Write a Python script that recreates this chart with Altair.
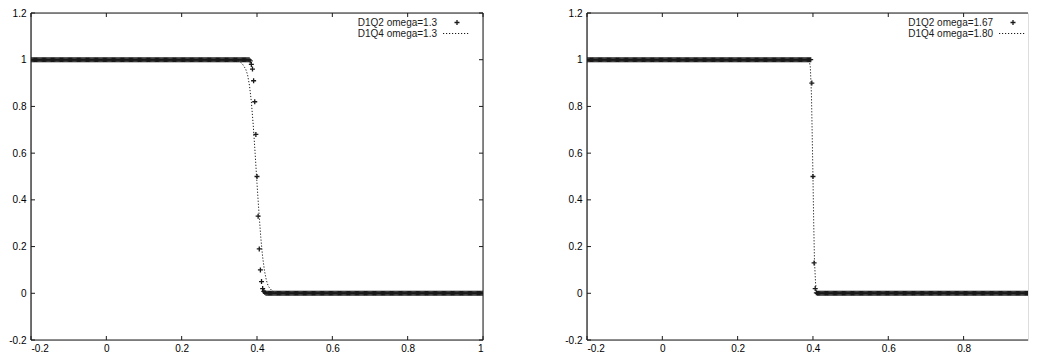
import altair as alt
import pandas as pd

# ---------------- data ----------------
GRID_START = -0.2
GRID_STEP = 0.003
N_POINTS = 401
grid_x = [round(GRID_START + GRID_STEP * i, 4) for i in range(N_POINTS)]

# D1Q2 omega=1.3 (left) : plateau 1, transition, plateau 0
left_q2_transition = [1.0, 0.995, 0.98, 0.96, 0.91, 0.82, 0.68, 0.50, 0.33,
                      0.19, 0.10, 0.05, 0.02, 0.008, 0.003]
left_q2 = [1.0] * 193 + left_q2_transition + [0.0] * (N_POINTS - 193 - len(left_q2_transition))

# D1Q2 omega=1.67 (right)
right_q2_transition = [1.0, 0.90, 0.50, 0.13, 0.02, 0.002]
right_q2 = [1.0] * 198 + right_q2_transition + [0.0] * (N_POINTS - 198 - len(right_q2_transition))

# D1Q4 omega=1.3 (left), dotted curve
left_q4_x = [-0.2, 0.30, 0.33, 0.35, 0.36, 0.37, 0.375, 0.38, 0.385, 0.39, 0.395, 0.40,
             0.405, 0.41, 0.415, 0.42, 0.425, 0.43, 0.44, 0.45, 0.46, 0.48, 1.0]
left_q4_y = [1.0, 1.0, 0.999, 0.995, 0.985, 0.96, 0.935, 0.89, 0.82, 0.72, 0.60, 0.47,
             0.35, 0.24, 0.155, 0.095, 0.055, 0.03, 0.01, 0.003, 0.0005, 0.0, 0.0]

# D1Q4 omega=1.80 (right), dotted curve
right_q4_x = [-0.2, 0.385, 0.39, 0.393, 0.396, 0.398, 0.400, 0.402, 0.404, 0.407, 0.41, 0.415, 1.0]
right_q4_y = [1.0, 1.0, 0.995, 0.97, 0.85, 0.68, 0.50, 0.30, 0.14, 0.04, 0.01, 0.0, 0.0]

x_ticks = [-0.2, 0.0, 0.2, 0.4, 0.6, 0.8, 1.0]
x_ticks_right = [-0.2, 0.0, 0.2, 0.4, 0.6, 0.8]   # the right panel is cut at the page edge
y_ticks = [-0.2, 0.0, 0.2, 0.4, 0.6, 0.8, 1.0, 1.2]

left_labels = ["D1Q2 omega=1.3", "D1Q4 omega=1.3"]
right_labels = ["D1Q2 omega=1.67", "D1Q4 omega=1.80"]

# ---------------- style ----------------
FONT = "Liberation Sans"
INK = "#1a1a1a"
H = 327
TICK = 4
CROSS = "M-1,0L1,0M0,-1L0,1"
LABEL_FMT = "replace(format(datum.value, '~g'), '\u2212', '-')"


def panel(q2_vals, q4_x, q4_y, labels, width, x_max, xt_vals, right_side=True):
    x_scale = alt.Scale(domain=[-0.2, x_max], nice=False, zero=False)
    y_scale = alt.Scale(domain=[-0.2, 1.2], nice=False, zero=False)
    x_axis = alt.Axis(values=xt_vals, tickSize=0, domain=False, grid=False, title=None,
                      labelPadding=3, labelExpr=LABEL_FMT)
    y_axis = alt.Axis(values=y_ticks, tickSize=0, domain=False, grid=False, title=None,
                      labelPadding=5, labelExpr=LABEL_FMT)

    pts = pd.DataFrame({"x": grid_x, "y": q2_vals})
    crv = pd.DataFrame({"x": q4_x, "y": q4_y})

    points = alt.Chart(pts).mark_point(
        shape=CROSS, filled=False, stroke=INK, strokeWidth=1.3, size=25, opacity=1,
        clip=True
    ).encode(
        x=alt.X("x:Q", scale=x_scale, axis=x_axis),
        y=alt.Y("y:Q", scale=y_scale, axis=y_axis),
    )
    line = alt.Chart(crv).mark_line(
        color=INK, strokeWidth=1, strokeDash=[1.2, 1.8], clip=True
    ).encode(x="x:Q", y="y:Q")

    yt = pd.DataFrame({"v": y_ticks})
    xt = pd.DataFrame({"v": xt_vals})
    layers = [line, points]
    layers.append(alt.Chart(yt).mark_rule(color=INK, strokeWidth=1).encode(
        y="v:Q", x=alt.value(0), x2=alt.value(TICK)))
    layers.append(alt.Chart(xt).mark_rule(color=INK, strokeWidth=1).encode(
        x="v:Q", y=alt.value(H - TICK), y2=alt.value(H)))
    layers.append(alt.Chart(xt).mark_rule(color=INK, strokeWidth=1).encode(
        x="v:Q", y=alt.value(0), y2=alt.value(TICK)))

    one = pd.DataFrame({"k": [0]})
    layers += [
        alt.Chart(one).mark_rule(color=INK, strokeWidth=1).encode(
            x=alt.value(0), x2=alt.value(width), y=alt.value(0)),
        alt.Chart(one).mark_rule(color=INK, strokeWidth=1).encode(
            x=alt.value(0), x2=alt.value(width), y=alt.value(H)),
        alt.Chart(one).mark_rule(color=INK, strokeWidth=1.2).encode(
            x=alt.value(0), y=alt.value(0), y2=alt.value(H)),
    ]
    if right_side:
        layers.append(alt.Chart(yt).mark_rule(color=INK, strokeWidth=1).encode(
            y="v:Q", x=alt.value(width - TICK), x2=alt.value(width)))
        layers.append(alt.Chart(one).mark_rule(color=INK, strokeWidth=1).encode(
            x=alt.value(width), y=alt.value(0), y2=alt.value(H)))

    layers += [
        alt.Chart(pd.DataFrame({"t": [labels[0]]})).mark_text(
            align="right", baseline="middle", font=FONT, fontSize=10, color=INK
        ).encode(text="t:N", x=alt.value(406), y=alt.value(9.5)),
        alt.Chart(pd.DataFrame({"t": [labels[1]]})).mark_text(
            align="right", baseline="middle", font=FONT, fontSize=10, color=INK
        ).encode(text="t:N", x=alt.value(406), y=alt.value(20.5)),
        alt.Chart(one).mark_point(
            shape=CROSS, filled=False, stroke=INK, strokeWidth=1.3, size=25, opacity=1
        ).encode(x=alt.value(426), y=alt.value(9.5)),
        alt.Chart(one).mark_rule(
            color=INK, strokeWidth=1, strokeDash=[1.2, 1.8]
        ).encode(x=alt.value(412), x2=alt.value(439), y=alt.value(20.5)),
    ]
    return alt.layer(*layers).properties(width=width, height=H)


left = panel(left_q2, left_q4_x, left_q4_y, left_labels, 452, 1.0, x_ticks)
right = panel(right_q2, right_q4_x, right_q4_y, right_labels, 441, 0.971, x_ticks_right,
              right_side=False)

chart = alt.hconcat(left, right, spacing=80).properties(
    padding={"left": 0, "top": -1, "right": 0, "bottom": 0}
).configure_view(
    strokeWidth=0
).configure_axis(
    labelFont=FONT, labelFontSize=10.5, labelColor=INK
).configure(background="white")

chart.save("out.html", embed_options={"renderer": "svg", "actions": False})
